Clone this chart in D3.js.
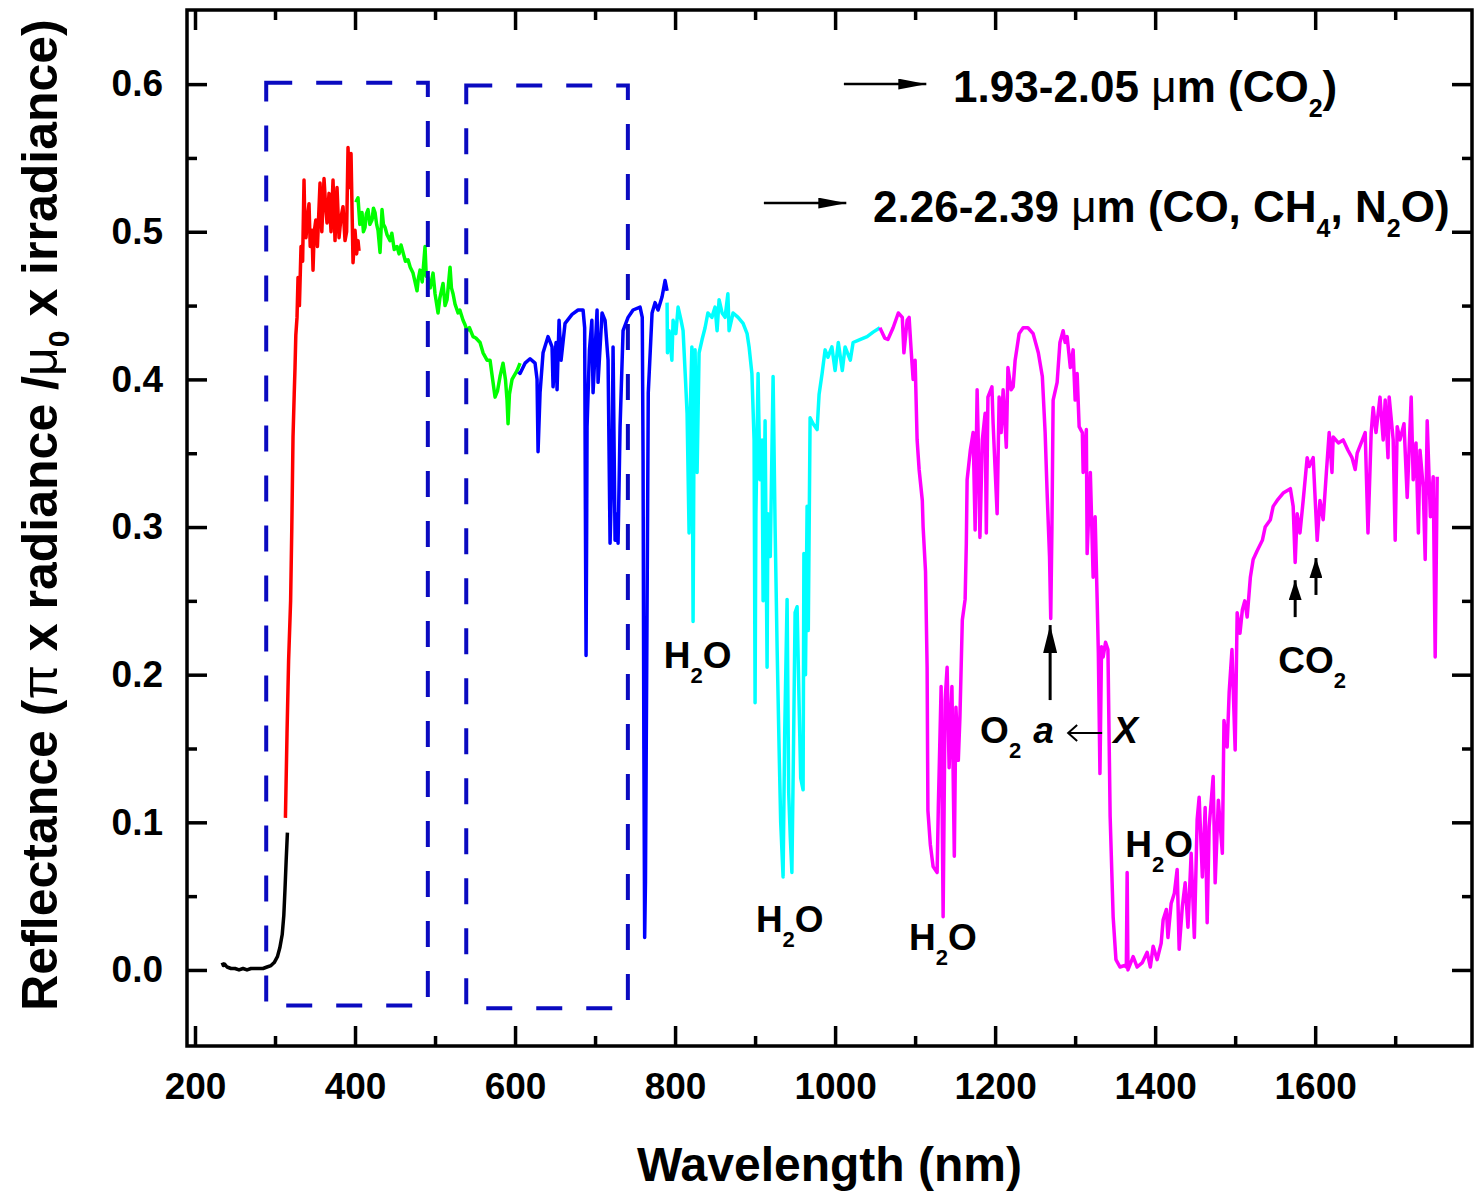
<!DOCTYPE html>
<html>
<head>
<meta charset="utf-8">
<script src="https://cdn.jsdelivr.net/npm/d3@7"></script>
<style>
  body { margin: 0; background: #fff; }
  svg text { font-family: "Liberation Sans", Arial, sans-serif; font-weight: bold; }
</style>
</head>
<body>
<svg id="chart"></svg>
<script>

// spectrum pieces, [wavelength nm, reflectance], one array per colour
var blackSeg = [[234,0.005],[235.5,0.003],[237,0.004],[240,0.002],[245,0.001],[250,0.001],[255,0.000],[260,0.001],
  [265,0.000],[270,0.001],[275,0.001],[280,0.001],[285,0.001],[290,0.002],[295,0.003],[299,0.005],[303,0.009],
  [306,0.015],[309,0.024],[311,0.037],[312.5,0.055],[314,0.075],[315.5,0.093]];

var redSeg = [[313,0.103],[315,0.16],[317,0.21],[319.5,0.25],[321,0.30],[322.5,0.361],[324,0.39],[325,0.408],
  [326,0.43],[327.5,0.442],[328.75,0.469],[330.5,0.45],[332.5,0.490],[334.5,0.48],[336.25,0.535],[337.5,0.50],
  [338.75,0.496],[340.5,0.51],[342.5,0.519],[344,0.49],[346.25,0.501],[347.5,0.474],[349,0.50],[351,0.508],
  [353,0.49],[356.25,0.533],[358.5,0.50],[361.25,0.536],[363,0.52],[365,0.506],[367.5,0.526],[370,0.50],
  [372.5,0.535],[375,0.494],[377.5,0.530],[380,0.496],[382.5,0.51],[385,0.517],[387.5,0.494],[389.5,0.50],
  [391.25,0.557],[393,0.53],[395,0.553],[397.5,0.479],[400,0.501],[402,0.485],[403.75,0.494],[405,0.487]];

var greenSeg = [[401,0.52],[403.75,0.523],[406,0.505],[408.75,0.513],[410.5,0.50],[412.5,0.503],[414,0.512],
  [416.25,0.515],[418.5,0.505],[421.25,0.508],[423,0.516],[425,0.513],[427,0.505],[428.75,0.501],[431.25,0.486],
  [433.75,0.515],[435.5,0.505],[437.5,0.503],[440,0.498],[443.75,0.494],[446,0.499],[449,0.488],[452.5,0.490],
  [455,0.485],[457.5,0.491],[460,0.486],[463,0.480],[466.25,0.481],[469,0.476],[472.5,0.472],[475,0.466],
  [477.5,0.460],[479,0.468],[481.25,0.474],[484,0.466],[487.5,0.490],[489,0.47],[491.25,0.469],[494,0.462],
  [497.5,0.472],[500,0.458],[503.75,0.445],[506,0.455],[510,0.465],[512.5,0.450],[515,0.454],[518.75,0.476],
  [520.5,0.462],[522.5,0.458],[525,0.451],[528.75,0.445],[531,0.447],[535,0.440],[537.5,0.437],[540,0.433],
  [543,0.435],[547.5,0.429],[551,0.428],[556.25,0.425],[560,0.418],[565,0.413],[568.75,0.413],[572,0.40],
  [575,0.388],[578,0.392],[581.25,0.402],[585,0.411],[588,0.40],[590,0.386],[591.25,0.370],[593,0.39],
  [596.25,0.400],[602.5,0.406],[606.25,0.411]];

var blueSeg = [[604,0.405],[606.25,0.404],[612.5,0.411],[618.75,0.414],[625,0.411],[627.5,0.400],[628.75,0.351],
  [631.25,0.391],[635,0.418],[641.25,0.429],[646.25,0.422],[647.5,0.395],[651.25,0.425],[652.5,0.393],[655,0.440],
  [657.5,0.413],[662.5,0.438],[671.25,0.444],[678.75,0.447],[685,0.447],[687,0.435],[688,0.30],[688.75,0.213],
  [689.5,0.30],[690,0.368],[693,0.42],[696,0.440],[697.5,0.391],[702.5,0.447],[703.75,0.398],[708.75,0.445],
  [712.5,0.440],[716.25,0.413],[718.75,0.289],[721.25,0.345],[722.5,0.422],[725,0.291],[727.5,0.309],
  [728.75,0.289],[731.25,0.368],[735,0.433],[741.25,0.442],[747.5,0.447],[756.25,0.449],[759,0.442],[760,0.345],
  [761,0.15],[762,0.022],[763,0.06],[764.5,0.20],[765.5,0.293],[766.5,0.391],[771.25,0.445],[775,0.452],
  [778.75,0.447],[783.75,0.456],[787.5,0.467],[790,0.460]];

var cyanSeg = [[790,0.452],[790.5,0.418],[792.5,0.433],[796,0.413],[797.5,0.440],[801,0.431],[803.75,0.449],
  [807.5,0.440],[810,0.433],[813,0.40],[815,0.377],[817.5,0.296],[819,0.38],[821,0.422],[822.5,0.236],[824,0.40],
  [825,0.420],[827.5,0.337],[830,0.418],[833.75,0.427],[837.5,0.435],[841,0.445],[846,0.442],[850,0.449],
  [852.5,0.433],[855,0.454],[858.75,0.445],[862.5,0.442],[866,0.458],[867.5,0.433],[872.5,0.445],[878.75,0.442],
  [885,0.438],[890,0.431],[892.5,0.422],[896,0.404],[898.75,0.359],[900,0.181],[901,0.309],[903.75,0.404],
  [906,0.332],[908.75,0.359],[910,0.25],[912.5,0.372],[915,0.205],[916,0.309],[919,0.28],[922.5,0.402],
  [925,0.30],[927.5,0.219],[930,0.15],[932,0.10],[935,0.063],[937,0.16],[940,0.251],[942,0.12],[944,0.09],
  [946,0.066],[948,0.15],[950,0.242],[952.5,0.246],[955,0.18],[957,0.13],[960,0.122],[961,0.282],[963,0.20],
  [965,0.314],[966.5,0.23],[968.75,0.374],[972.5,0.370],[977.5,0.366],[980,0.39],[983.75,0.404],[987.5,0.420],
  [991,0.415],[996,0.422],[1000,0.406],[1004,0.425],[1009,0.406],[1012.5,0.422],[1019,0.413],[1022.5,0.425],
  [1031,0.427],[1040,0.429],[1047.5,0.432],[1056,0.435]];

var magentaSeg = [[1056,0.435],[1062,0.428],[1066,0.427],[1072.5,0.435],[1079,0.445],[1084,0.442],[1086,0.418],
  [1090,0.440],[1092.5,0.442],[1095,0.420],[1097.5,0.400],[1100,0.413],[1102.5,0.359],[1105,0.339],[1109,0.318],
  [1110,0.300],[1113,0.270],[1115,0.205],[1116,0.108],[1119,0.085],[1122.5,0.070],[1127.5,0.066],[1129,0.110],
  [1132.5,0.192],[1135,0.036],[1137.5,0.183],[1140,0.205],[1142.5,0.137],[1146,0.192],[1149,0.077],[1151,0.178],
  [1154,0.142],[1156,0.171],[1159,0.237],[1162.5,0.251],[1164,0.289],[1165,0.332],[1169,0.352],[1172.5,0.364],
  [1175,0.298],[1177.5,0.393],[1179,0.357],[1181,0.293],[1184,0.359],[1187.5,0.377],[1189,0.296],[1191,0.388],
  [1196,0.395],[1197.5,0.370],[1200,0.339],[1202.5,0.309],[1205,0.388],[1207.5,0.364],[1210,0.393],[1214,0.354],
  [1216,0.408],[1220,0.393],[1222.5,0.395],[1225,0.413],[1227.5,0.422],[1230,0.431],[1235,0.435],[1241,0.435],
  [1247.5,0.431],[1254,0.418],[1259,0.402],[1262.5,0.364],[1265,0.323],[1268,0.28],[1269.5,0.238],[1271,0.30],
  [1272.5,0.386],[1277.5,0.398],[1281,0.425],[1285,0.433],[1287.5,0.425],[1290,0.429],[1294,0.408],[1297.5,0.420],
  [1300,0.386],[1302.5,0.404],[1305,0.368],[1309,0.364],[1310,0.337],[1314,0.366],[1315,0.282],[1319,0.337],
  [1322.5,0.266],[1325,0.307],[1327.5,0.251],[1329,0.215],[1331,0.133],[1333,0.219],[1335,0.212],[1338,0.222],
  [1341,0.217],[1343.75,0.104],[1347.5,0.036],[1351,0.007],[1356,0.002],[1362,0.003],[1364,0.002],[1365,0.066],
  [1366,0.000],[1372.5,0.009],[1377.5,0.002],[1384,0.005],[1390,0.012],[1394,0.002],[1397.5,0.016],[1402.5,0.007],
  [1407.5,0.018],[1410,0.034],[1414,0.041],[1416,0.022],[1420,0.045],[1424,0.052],[1427.5,0.068],[1430,0.014],
  [1434,0.043],[1437.5,0.059],[1441,0.029],[1445,0.079],[1449,0.022],[1452.5,0.102],[1455,0.117],[1459,0.063],
  [1462.5,0.110],[1465,0.032],[1467.5,0.097],[1472.5,0.131],[1475,0.059],[1479,0.115],[1484,0.079],[1486,0.169],
  [1490,0.151],[1492.5,0.188],[1496,0.217],[1500,0.149],[1502.5,0.242],[1506,0.228],[1509,0.244],[1512,0.25],
  [1515,0.239],[1519,0.266],[1522.5,0.278],[1527.5,0.284],[1534,0.291],[1537.5,0.300],[1544,0.305],[1547.5,0.314],
  [1552.5,0.318],[1560,0.323],[1569,0.326],[1572.5,0.314],[1575,0.276],[1577.5,0.309],[1581,0.296],[1585,0.318],
  [1590,0.347],[1592.5,0.341],[1597.5,0.347],[1602.5,0.291],[1606,0.318],[1610,0.305],[1614,0.337],[1617.5,0.364],
  [1621,0.337],[1622.5,0.361],[1629,0.357],[1635,0.359],[1641,0.352],[1646,0.347],[1650,0.339],[1652.5,0.350],
  [1659,0.359],[1662.5,0.364],[1666,0.296],[1670,0.364],[1672.5,0.381],[1676,0.364],[1681,0.388],[1685,0.359],
  [1687.5,0.386],[1691,0.347],[1692.5,0.388],[1697.5,0.359],[1700,0.291],[1702.5,0.368],[1706,0.359],[1711,0.370],
  [1715,0.320],[1720,0.388],[1722.5,0.332],[1726,0.357],[1729,0.296],[1731,0.352],[1735,0.327],[1737.5,0.278],
  [1740,0.372],[1744,0.307],[1747.5,0.334],[1750,0.212],[1752.5,0.334]];

var segments = [blackSeg, redSeg, greenSeg, blueSeg, cyanSeg, magentaSeg];
var segColors = ["#000000", "#ff0000", "#00ff00", "#0000ff", "#00ffff", "#ff00ff"];

// axis ticks
var xMajor = [200, 400, 600, 800, 1000, 1200, 1400, 1600];
var xMinor = [300, 500, 700, 900, 1100, 1300, 1500, 1700];
var yMajor = [0.0, 0.1, 0.2, 0.3, 0.4, 0.5, 0.6];
var yMinor = [0.05, 0.15, 0.25, 0.35, 0.45, 0.55];

// dashed boxes [nm left, nm right, refl bottom, refl top]
var boxes = [[289, 491, -0.024, 0.601], [539, 741, -0.026, 0.599]];

// annotations, in data units
var h2oSpots = [[786, 0.2045], [901, 0.0257], [1092.5, 0.0135], [1362.5, 0.0765]];
var co2Spot = [1553.75, 0.2011];
var co2Arrows = [[1575, 0.239, 0.264], [1601, 0.254, 0.279]];
var o2Arrow = [1268.75, 0.1828, 0.2336];
var bandArrows = [[1011, 1114, 0.600], [911, 1014, 0.5194]];
var bandTextAt = [[1147.5, 0.5878], [1047.5, 0.5065]];


var width = 1480, height = 1196;
var plot = {left: 187, top: 10, right: 1472, bottom: 1046};

var svg = d3.select("#chart")
    .attr("width", width)
    .attr("height", height);

svg.append("rect")
    .attr("width", width)
    .attr("height", height)
    .attr("fill", "white");

var xScale = d3.scaleLinear()
    .domain([190, 1796])
    .range([plot.left, plot.right]);

var yScale = d3.scaleLinear()
    .domain([-0.0515, 0.6502])
    .range([plot.bottom, plot.top]);

var defs = svg.append("defs");
function addHead(id, len, wid) {
    defs.append("marker")
        .attr("id", id)
        .attr("markerUnits", "userSpaceOnUse")
        .attr("markerWidth", len)
        .attr("markerHeight", wid)
        .attr("refX", len)
        .attr("refY", wid / 2)
        .attr("orient", "auto")
      .append("path")
        .attr("d", "M0,0 L" + len + "," + (wid / 2) + " L0," + wid + " Z")
        .attr("fill", "black");
}
addHead("headLong", 28, 11);
addHead("headShort", 20, 13);
addHead("headO2", 28, 14);

// spectrum
var line = d3.line()
    .x(function(d) { return xScale(d[0]); })
    .y(function(d) { return yScale(d[1]); });

svg.append("g").selectAll("path")
    .data(segments)
    .enter().append("path")
    .attr("d", line)
    .attr("fill", "none")
    .attr("stroke", function(d, i) { return segColors[i]; })
    .attr("stroke-width", 3.5)
    .attr("stroke-linejoin", "round");

// dashed boxes
svg.append("g").selectAll("rect")
    .data(boxes)
    .enter().append("rect")
    .attr("x", function(d) { return xScale(d[0]); })
    .attr("y", function(d) { return yScale(d[3]); })
    .attr("width", function(d) { return xScale(d[1]) - xScale(d[0]); })
    .attr("height", function(d) { return yScale(d[2]) - yScale(d[3]); })
    .attr("fill", "none")
    .attr("stroke", "#0a0ac0")
    .attr("stroke-width", 4)
    .attr("stroke-dasharray", "26,24");

// axes, ticks inside on all four sides
function styleAxis(g) {
    g.select(".domain").remove();
    g.selectAll(".tick line").attr("stroke", "black").attr("stroke-width", 3.5);
    g.selectAll(".tick text")
        .attr("fill", "black")
        .attr("font-size", 37)
        .attr("font-family", "Liberation Sans, Arial, sans-serif")
        .attr("font-weight", "bold");
}

svg.append("g")
    .attr("transform", "translate(0," + plot.bottom + ")")
    .call(d3.axisBottom(xScale).tickValues(xMajor).tickSize(-20).tickPadding(27).tickFormat(d3.format("d")))
    .call(styleAxis);
svg.append("g")
    .attr("transform", "translate(0," + plot.bottom + ")")
    .call(d3.axisBottom(xScale).tickValues(xMinor).tickSize(-10).tickFormat(""))
    .call(styleAxis);
svg.append("g")
    .attr("transform", "translate(0," + plot.top + ")")
    .call(d3.axisTop(xScale).tickValues(xMajor).tickSize(-20).tickFormat(""))
    .call(styleAxis);
svg.append("g")
    .attr("transform", "translate(0," + plot.top + ")")
    .call(d3.axisTop(xScale).tickValues(xMinor).tickSize(-10).tickFormat(""))
    .call(styleAxis);

svg.append("g")
    .attr("transform", "translate(" + plot.left + ",0)")
    .call(d3.axisLeft(yScale).tickValues(yMajor).tickSize(-20).tickPadding(24).tickFormat(d3.format(".1f")))
    .call(styleAxis);
svg.append("g")
    .attr("transform", "translate(" + plot.left + ",0)")
    .call(d3.axisLeft(yScale).tickValues(yMinor).tickSize(-10).tickFormat(""))
    .call(styleAxis);
svg.append("g")
    .attr("transform", "translate(" + plot.right + ",0)")
    .call(d3.axisRight(yScale).tickValues(yMajor).tickSize(-20).tickFormat(""))
    .call(styleAxis);
svg.append("g")
    .attr("transform", "translate(" + plot.right + ",0)")
    .call(d3.axisRight(yScale).tickValues(yMinor).tickSize(-10).tickFormat(""))
    .call(styleAxis);

// frame
svg.append("rect")
    .attr("x", plot.left)
    .attr("y", plot.top)
    .attr("width", plot.right - plot.left)
    .attr("height", plot.bottom - plot.top)
    .attr("fill", "none")
    .attr("stroke", "black")
    .attr("stroke-width", 3.5);

// text with subscripts: parts = [text, sub?, weight, italic]
function richText(sel, parts, subSize, subShift) {
    var shift = 0;
    parts.forEach(function(p) {
        var want = p[1] ? subShift : 0;
        var t = sel.append("tspan").text(p[0]).attr("dy", want - shift);
        shift = want;
        if (p[1]) t.attr("font-size", subSize);
        if (p[2]) t.attr("font-weight", p[2]);
        if (p[3]) t.attr("font-style", "italic");
    });
    return sel;
}

// axis titles
svg.append("text")
    .attr("x", (plot.left + plot.right) / 2)
    .attr("y", 1181)
    .attr("text-anchor", "middle")
    .attr("font-size", 48)
    .text("Wavelength (nm)");

richText(svg.append("text")
    .attr("transform", "translate(57,515) rotate(-90)")
    .attr("text-anchor", "middle")
    .attr("font-size", 50),
    [["Reflectance ("], ["\u03c0", 0, "normal"], [" x radiance /"], ["\u03bc", 0, "normal"], ["0", 1], [" x irradiance)"]],
    30, 12);

// band notes at top right
bandArrows.forEach(function(a) {
    svg.append("line")
        .attr("x1", xScale(a[0]))
        .attr("x2", xScale(a[1]))
        .attr("y1", yScale(a[2]))
        .attr("y2", yScale(a[2]))
        .attr("stroke", "black")
        .attr("stroke-width", 2.5)
        .attr("marker-end", "url(#headLong)");
});
var bandParts = [
    [["1.93-2.05 "], ["\u03bc", 0, "normal"], ["m (CO"], ["2", 1], [")"]],
    [["2.26-2.39 "], ["\u03bc", 0, "normal"], ["m (CO, CH"], ["4", 1], [", N"], ["2", 1], ["O)"]]
];
bandTextAt.forEach(function(p, i) {
    richText(svg.append("text")
        .attr("x", xScale(p[0]))
        .attr("y", yScale(p[1]))
        .attr("font-size", 44), bandParts[i], 25, 15);
});

// H2O labels
h2oSpots.forEach(function(p) {
    richText(svg.append("text")
        .attr("x", xScale(p[0]))
        .attr("y", yScale(p[1]))
        .attr("font-size", 37), [["H"], ["2", 1], ["O"]], 22, 15);
});

// CO2 label and arrows
richText(svg.append("text")
    .attr("x", xScale(co2Spot[0]))
    .attr("y", yScale(co2Spot[1]))
    .attr("font-size", 37), [["CO"], ["2", 1]], 22, 15);

co2Arrows.forEach(function(a) {
    svg.append("line")
        .attr("x1", xScale(a[0]))
        .attr("x2", xScale(a[0]))
        .attr("y1", yScale(a[1]))
        .attr("y2", yScale(a[2]))
        .attr("stroke", "black")
        .attr("stroke-width", 3)
        .attr("marker-end", "url(#headShort)");
});

// O2 a <- X
svg.append("line")
    .attr("x1", xScale(o2Arrow[0]))
    .attr("x2", xScale(o2Arrow[0]))
    .attr("y1", yScale(o2Arrow[1]))
    .attr("y2", yScale(o2Arrow[2]))
    .attr("stroke", "black")
    .attr("stroke-width", 3)
    .attr("marker-end", "url(#headO2)");

richText(svg.append("text")
    .attr("x", xScale(1181.25))
    .attr("y", yScale(0.1537))
    .attr("font-size", 37), [["O"], ["2", 1]], 22, 15);
svg.append("text")
    .attr("x", xScale(1247.5))
    .attr("y", yScale(0.1537))
    .attr("font-size", 37)
    .attr("font-style", "italic")
    .text("a");
svg.append("text")
    .attr("x", xScale(1347.5))
    .attr("y", yScale(0.1537))
    .attr("font-size", 37)
    .attr("font-style", "italic")
    .text("X");

var ax1 = xScale(1291.25), ax2 = xScale(1333.75), ay = yScale(0.1605);
svg.append("path")
    .attr("d", "M" + ax2 + "," + ay + " L" + ax1 + "," + ay +
               " M" + (ax1 + 9) + "," + (ay - 8) + " L" + ax1 + "," + ay + " L" + (ax1 + 9) + "," + (ay + 8))
    .attr("fill", "none")
    .attr("stroke", "black")
    .attr("stroke-width", 2);

</script>
</body>
</html>
